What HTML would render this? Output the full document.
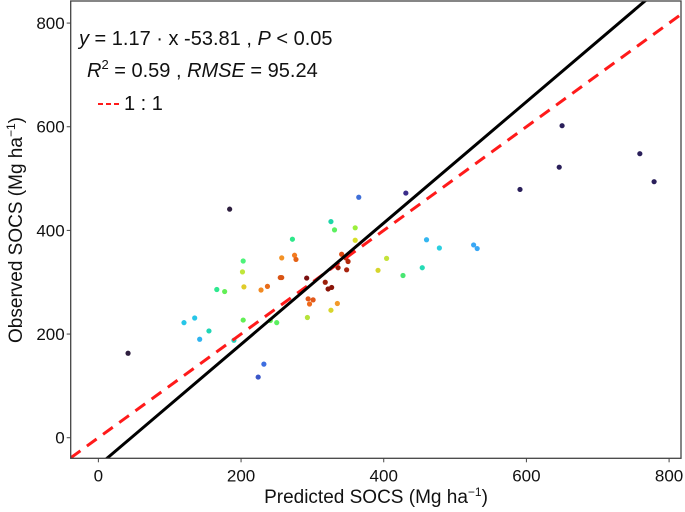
<!DOCTYPE html>
<html><head><meta charset="utf-8"><style>
body{margin:0;background:#fff}
svg{display:block;font-family:"Liberation Sans",Arial,sans-serif}
</style></head><body>
<svg id="chart" width="685" height="512"></svg>
<script>
const predicted=[184,41.6,365,431,326,331,360,360,272,460,478,526,531,404,392,427,454,203,202,204,166,177,257,275,277,255,257,228,237,292,318,322,327,341,347,350,336,348,294,301,296,335,326,293,203,241,250,120,135,155,142,190,232,224,650,759,646,779,591];
const observed=[441,163,464,472,417,401,405,381,383,382,366,372,365,346,323,313,328,341,320,291,286,282,347,352,344,309,309,285,292,308,300,287,290,354,347,340,328,324,268,266,258,259,246,232,227,226,222,222,231,206,190,188,142,117,602,548,522,494,479];
const colors=["#2d1e3e","#2d1e3e","#3f6fd8","#3b2d8a","#1ed6a8","#5cf060","#9bef3b","#d8e02a","#2de88a","#34b6f0","#2bcfe0","#39a7f5","#39a7f5","#c4e33a","#d6d52c","#49e672","#25dbb5","#4df37a","#c0e63a","#e0cc2a","#2ee88f","#62ef55","#f39226","#f37a1e","#e46216","#d95414","#d95414","#f28a22","#e86c1a","#7a1010","#9c1f0a","#8a1408","#8a1408","#e04a12","#c33010","#b22a0c","#9a1c08","#a82410","#e2581a","#e2581a","#ef6a1a","#f39a2a","#d8d52c","#b6e33a","#62ef55","#62ef55","#5cf060","#27c6e8","#27c6e8","#1fd6b5","#2eb3ef","#1ed6c0","#3e6ee0","#3a56c8","#2a1f5a","#2a1f5a","#2a1f5a","#2a1f5a","#2a1f5a"];
const xTicks=[0,200,400,600,800];
const yTicks=[0,200,400,600,800];
const slope=1.17, intercept=-53.81;
const xMin=-38.8,xMax=816.7,yMin=-39.7,yMax=842.6;
const L=70.7,R=681,T=1,B=458.3;
const sx=v=>L+(v-xMin)/(xMax-xMin)*(R-L);
const sy=v=>B-(v-yMin)/(yMax-yMin)*(B-T);
const NS="http://www.w3.org/2000/svg";
const svg=document.getElementById('chart');
function mk(t,a,p){const e=document.createElementNS(NS,t);for(const k in a)e.setAttribute(k,a[k]);(p||svg).appendChild(e);return e;}
const defs=mk('defs',{});const cp=mk('clipPath',{id:'c'},defs);mk('rect',{x:L,y:T,width:R-L,height:B-T},cp);
const g=mk('g',{'clip-path':'url(#c)'});
for(let i=0;i<predicted.length;i++){
 const c=mk('circle',{cx:sx(predicted[i]),cy:sy(observed[i]),r:2.6,fill:colors[i]},g);
 
 
}
const one=mk('line',{x1:sx(xMin),y1:sy(xMin),x2:sx(xMax),y2:sy(xMax),stroke:'#ff1a1a','stroke-width':3,'stroke-dasharray':'12,8'},g);


const fit=mk('line',{x1:sx(xMin),y1:sy(slope*xMin+intercept),x2:sx(xMax),y2:sy(slope*xMax+intercept),stroke:'#000','stroke-width':3},g);


const fr=mk('rect',{x:L,y:T,width:R-L,height:B-T,fill:'none',stroke:'#444','stroke-width':1.3});


xTicks.forEach(v=>{
 mk('line',{x1:sx(v),x2:sx(v),y1:B,y2:B+4,stroke:'#444'});
 const t=mk('text',{x:sx(v),y:B+23,'text-anchor':'middle','font-size':17,fill:'#111'});t.textContent=v;
 
 
});
yTicks.forEach(v=>{
 mk('line',{x1:L-4,x2:L,y1:sy(v),y2:sy(v),stroke:'#444'});
 const t=mk('text',{x:L-6,y:sy(v)+6,'text-anchor':'end','font-size':17,fill:'#111'});t.textContent=v;
 
 
});
</script>
<svg style="position:absolute;left:0;top:0" width="685" height="512">
<text x="376" y="503" text-anchor="middle" font-size="19" fill="#111">Predicted SOCS (Mg ha<tspan dy="-7" font-size="12">−1</tspan><tspan dy="7">)</tspan></text>
<text transform="translate(22,230) rotate(-90)" text-anchor="middle" font-size="19" fill="#111">Observed SOCS (Mg ha<tspan dy="-7" font-size="12">−1</tspan><tspan dy="7">)</tspan></text>
<text x="79" y="45" font-size="20" fill="#111"><tspan font-style="italic">y</tspan> = 1.17 ·  x -53.81 , <tspan font-style="italic">P</tspan> &lt; 0.05</text>
<text x="87" y="77" font-size="20" fill="#111"><tspan font-style="italic">R</tspan><tspan dy="-8" font-size="13">2</tspan><tspan dy="8"> = 0.59 , </tspan><tspan font-style="italic">RMSE</tspan> = 95.24</text>
<g>
<line x1="98" y1="104" x2="120" y2="104" stroke="#ff1a1a" stroke-width="2" stroke-dasharray="5,3"/>
<text x="124" y="110" font-size="20" fill="#111">1 : 1</text>
</g>
</svg>
</body></html>
